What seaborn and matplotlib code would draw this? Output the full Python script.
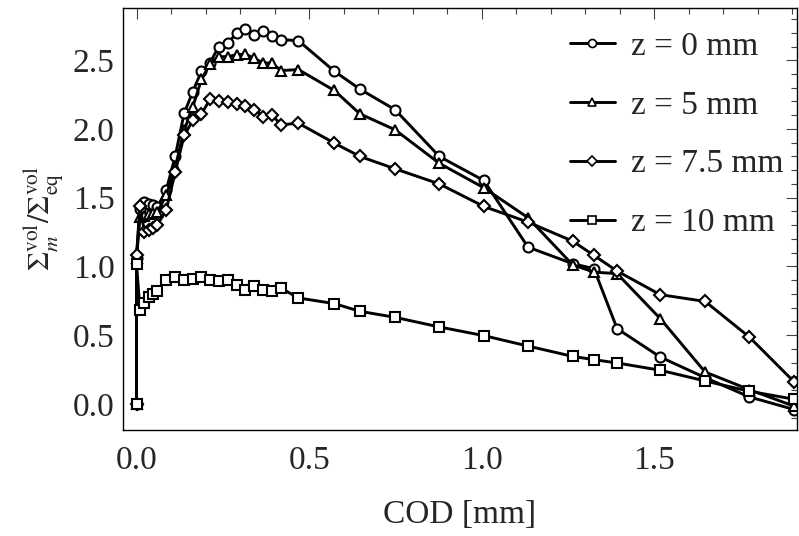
import numpy as np
import pandas as pd
import seaborn as sns
import matplotlib
matplotlib.use("Agg")
import matplotlib.pyplot as plt
from matplotlib.lines import Line2D
from matplotlib.ticker import MultipleLocator, FormatStrFormatter

# COD values [mm], shared by all four series
cod = [0.0, 0.0, 0.01, 0.023, 0.036, 0.048, 0.06, 0.086, 0.112, 0.138, 0.163,
       0.188, 0.213, 0.238, 0.264, 0.29, 0.315, 0.341, 0.367, 0.392, 0.418,
       0.469, 0.573, 0.647, 0.749, 0.877, 1.006, 1.134, 1.263, 1.325, 1.392,
       1.517, 1.647, 1.775, 1.905]

z0 = [0.0, 1.06, 1.42, 1.468, 1.455, 1.443, 1.43, 1.553, 1.80, 2.115, 2.27,
      2.42, 2.48, 2.60, 2.625, 2.695, 2.725, 2.687, 2.71, 2.68, 2.65,
      2.643, 2.42, 2.29, 2.14, 1.80, 1.625, 1.14, 1.02, 0.983, 0.547,
      0.34, 0.19, 0.05, -0.042]

z5 = [0.0, 1.06, 1.36, 1.37, 1.38, 1.39, 1.395, 1.516, 1.72, 1.99, 2.16,
      2.36, 2.474, 2.525, 2.527, 2.54, 2.545, 2.515, 2.48, 2.48, 2.425,
      2.432, 2.28, 2.11, 1.994, 1.75, 1.572, 1.354, 1.012, 0.958, 0.947,
      0.62, 0.231, 0.103, -0.018]

z75 = [0.0, 1.08, 1.44, 1.25, 1.267, 1.28, 1.30, 1.41, 1.686, 1.953, 2.062,
       2.11, 2.215, 2.202, 2.195, 2.183, 2.17, 2.14, 2.09, 2.105, 2.03,
       2.042, 1.897, 1.80, 1.71, 1.60, 1.436, 1.322, 1.184, 1.08, 0.966,
       0.794, 0.745, 0.486, 0.159]

z10 = [0.0, 1.02, 0.685, 0.733, 0.777, 0.80, 0.818, 0.903, 0.922, 0.903, 0.91,
       0.922, 0.898, 0.893, 0.903, 0.862, 0.83, 0.857, 0.83, 0.82, 0.842,
       0.77, 0.729, 0.673, 0.629, 0.559, 0.496, 0.42, 0.345, 0.321, 0.297,
       0.244, 0.166, 0.091, 0.033]

labels = ["z = 0 mm", "z = 5 mm", "z = 7.5 mm", "z = 10 mm"]
series = [z0, z5, z75, z10]

# long table for seaborn
df = pd.concat([pd.DataFrame({"cod": cod, "ratio": s, "case": lab})
                for s, lab in zip(series, labels)], ignore_index=True)

sns.set_style("white")
plt.rcParams["font.family"] = ["Liberation Serif", "STIXGeneral", "DejaVu Serif"]
plt.rcParams["mathtext.fontset"] = "stix"

fig = plt.figure(figsize=(7.99, 5.36), dpi=100)
ax = fig.add_axes([0.154, 0.198, 0.843, 0.787])

markers = {"z = 0 mm": "o", "z = 5 mm": "^", "z = 7.5 mm": "D", "z = 10 mm": "s"}
msize = {"z = 0 mm": 7.2, "z = 5 mm": 7.6, "z = 7.5 mm": 6.0, "z = 10 mm": 6.5}

for lab in labels:
    sub = df[df["case"] == lab]
    sns.lineplot(data=sub, x="cod", y="ratio", ax=ax, sort=False, estimator=None,
                 color="black", linewidth=2.1, marker=markers[lab], markersize=msize[lab],
                 markerfacecolor="white", markeredgecolor="black", markeredgewidth=1.5,
                 legend=False)

ax.set_xlim(-0.039, 1.912)
ax.set_ylim(-0.19, 2.88)
ax.xaxis.set_major_locator(MultipleLocator(0.5))
ax.xaxis.set_minor_locator(MultipleLocator(0.1))
ax.yaxis.set_major_locator(MultipleLocator(0.5))
ax.yaxis.set_minor_locator(MultipleLocator(0.1))
ax.xaxis.set_major_formatter(FormatStrFormatter("%.1f"))
ax.yaxis.set_major_formatter(FormatStrFormatter("%.1f"))
ax.tick_params(which="both", direction="in", top=True, right=True, color="#444444",
               width=0.8, labelsize=24)
ax.tick_params(which="major", length=8)
ax.tick_params(which="minor", length=4)
ax.tick_params(axis="x", pad=11)
ax.tick_params(axis="y", pad=6)
for sp in ax.spines.values():
    sp.set_color("black")
    sp.set_linewidth(1.0)

ax.set_xlabel("COD [mm]", fontsize=24, labelpad=17)
ax.set_ylabel(r"$\Sigma_m^{\rm vol}/\Sigma_{\rm eq}^{\rm vol}$", fontsize=22, labelpad=5)

handles = [Line2D([], [], color="black", linewidth=2.1, marker=markers[lab],
                  markersize=msize[lab] * 0.8, markerfacecolor="white",
                  markeredgecolor="black", markeredgewidth=1.2) for lab in labels]
ax.legend(handles, labels, loc="upper left", frameon=False, fontsize=24,
          handlelength=1.35, labelspacing=0.85, handletextpad=0.5,
          borderpad=0, borderaxespad=0, bbox_to_anchor=(0.663, 0.945))

fig.savefig("out.png", dpi=100)
